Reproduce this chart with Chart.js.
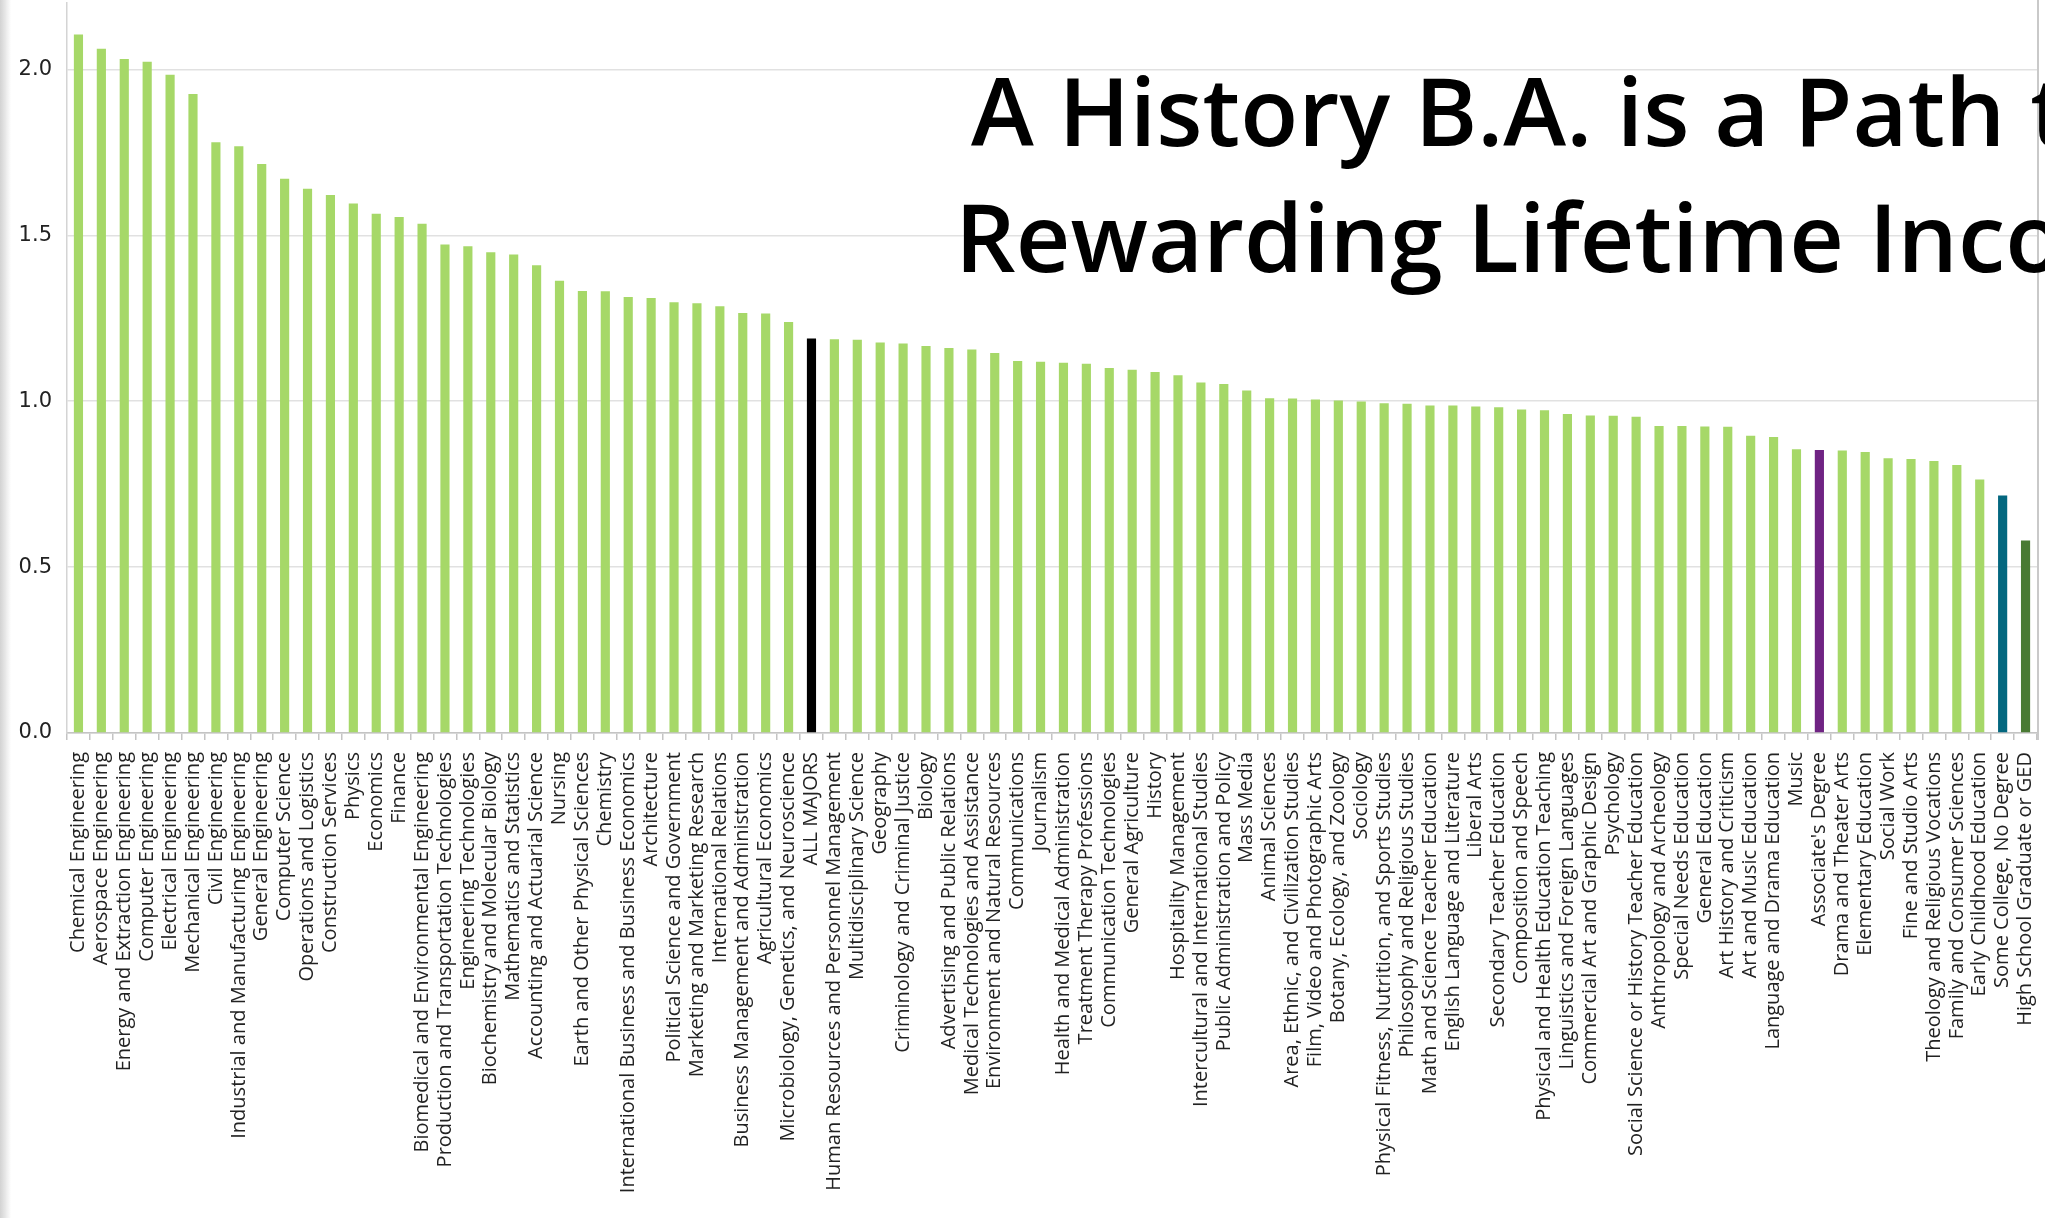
<!DOCTYPE html>
<html>
<head>
<meta charset="utf-8">
<title>A History B.A. is a Path to a Rewarding Lifetime Income</title>
<script src="https://cdn.jsdelivr.net/npm/chart.js@4"></script>
<style>
  html, body { margin: 0; padding: 0; background: #fff; overflow: hidden; }
  #wrap { position: relative; width: 2045px; height: 1218px; }
  #shade { position: absolute; left: 0; top: 0; width: 11px; height: 1218px;
           background: linear-gradient(to right, #d2d2d2, rgba(255,255,255,0)); }
</style>
</head>
<body>
<div id="wrap">
  <canvas id="chart" width="2045" height="1218"></canvas>
  <div id="shade"></div>
</div>
<script>
// Majors, sorted by lifetime income ratio
let majors = [
  "Chemical Engineering", "Aerospace Engineering", "Energy and Extraction Engineering",
  "Computer Engineering", "Electrical Engineering", "Mechanical Engineering",
  "Civil Engineering", "Industrial and Manufacturing Engineering", "General Engineering",
  "Computer Science", "Operations and Logistics", "Construction Services", "Physics",
  "Economics", "Finance", "Biomedical and Environmental Engineering",
  "Production and Transportation Technologies", "Engineering Technologies",
  "Biochemistry and Molecular Biology", "Mathematics and Statistics",
  "Accounting and Actuarial Science", "Nursing", "Earth and Other Physical Sciences",
  "Chemistry", "International Business and Business Economics", "Architecture",
  "Political Science and Government", "Marketing and Marketing Research",
  "International Relations", "Business Management and Administration",
  "Agricultural Economics", "Microbiology, Genetics, and Neuroscience", "ALL MAJORS",
  "Human Resources and Personnel Management", "Multidisciplinary Science", "Geography",
  "Criminology and Criminal Justice", "Biology", "Advertising and Public Relations",
  "Medical Technologies and Assistance", "Environment and Natural Resources",
  "Communications", "Journalism", "Health and Medical Administration",
  "Treatment Therapy Professions", "Communication Technologies", "General Agriculture",
  "History", "Hospitality Management", "Intercultural and International Studies",
  "Public Administration and Policy", "Mass Media", "Animal Sciences",
  "Area, Ethnic, and Civilization Studies", "Film, Video and Photographic Arts",
  "Botany, Ecology, and Zoology", "Sociology",
  "Physical Fitness, Nutrition, and Sports Studies", "Philosophy and Religious Studies",
  "Math and Science Teacher Education", "English Language and Literature", "Liberal Arts",
  "Secondary Teacher Education", "Composition and Speech",
  "Physical and Health Education Teaching", "Linguistics and Foreign Languages",
  "Commercial Art and Graphic Design", "Psychology",
  "Social Science or History Teacher Education", "Anthropology and Archeology",
  "Special Needs Education", "General Education", "Art History and Criticism",
  "Art and Music Education", "Language and Drama Education", "Music",
  "Associate's Degree", "Drama and Theater Arts", "Elementary Education", "Social Work",
  "Fine and Studio Arts", "Theology and Religious Vocations",
  "Family and Consumer Sciences", "Early Childhood Education",
  "Some College, No Degree", "High School Graduate or GED"
];

let incomeRatio = [
  2.105, 2.062, 2.031, 2.023, 1.984, 1.926, 1.780, 1.768, 1.715, 1.670,
  1.640, 1.621, 1.596, 1.565, 1.555, 1.535, 1.472, 1.467, 1.449, 1.442,
  1.410, 1.363, 1.332, 1.331, 1.314, 1.311, 1.298, 1.295, 1.286, 1.266,
  1.264, 1.239, 1.189, 1.187, 1.185, 1.177, 1.174, 1.166, 1.160, 1.156,
  1.145, 1.121, 1.119, 1.116, 1.113, 1.100, 1.095, 1.088, 1.078, 1.056,
  1.052, 1.032, 1.009, 1.008, 1.005, 1.002, 0.999, 0.994, 0.992, 0.987,
  0.987, 0.984, 0.982, 0.975, 0.973, 0.961, 0.957, 0.956, 0.953, 0.925,
  0.925, 0.924, 0.923, 0.896, 0.892, 0.855, 0.853, 0.851, 0.847, 0.828,
  0.826, 0.820, 0.808, 0.764, 0.716, 0.580
];

let yTicks = [0, 0.5, 1.0, 1.5, 2.0];
let yMax = 2.2;

let titleLines = ["A History B.A. is a Path to a", "Rewarding Lifetime Income"];

// colours
let barGreen = "#a6d868";
let highlight = {
  "ALL MAJORS": "#000000",
  "Associate's Degree": "#6f2383",
  "Some College, No Degree": "#03677f",
  "High School Graduate or GED": "#497a33"
};
let barColors = majors.map(m => highlight[m] || barGreen);

// big title laid over the plot, runs off the right edge
let titlePlugin = {
  id: "bigTitle",
  afterDraw(chart) {
    let ctx = chart.ctx;
    ctx.save();
    ctx.fillStyle = "#000";
    ctx.font = "600 95px 'Open Sans'";
    ctx.textAlign = "left";
    ctx.textBaseline = "alphabetic";
    ctx.fillText(titleLines[0], 971, 146);
    ctx.fillText(titleLines[1], 955, 272);
    ctx.restore();
  }
};

// thin frame line on the right of the plot
let frameRight = {
  id: "frameRight",
  beforeDatasetsDraw(chart) {
    let ctx = chart.ctx;
    let a = chart.chartArea;
    ctx.save();
    ctx.strokeStyle = "#c9c9c9";
    ctx.lineWidth = 2;
    ctx.beginPath();
    ctx.moveTo(a.right + 1, 0);
    ctx.lineTo(a.right + 1, a.bottom + 7);
    ctx.stroke();
    ctx.restore();
  }
};

function drawChart() {
  let ctx = document.getElementById("chart").getContext("2d");
  new Chart(ctx, {
    type: "bar",
    data: {
      labels: majors,
      datasets: [{
        data: incomeRatio,
        backgroundColor: barColors,
        borderWidth: 0,
        categoryPercentage: 1.0,
        barPercentage: 0.4
      }]
    },
    options: {
      responsive: false,
      animation: false,
      devicePixelRatio: 1,
      layout: { padding: { top: 3, right: 8, left: 0, bottom: 0 } },
      plugins: { legend: { display: false }, tooltip: { enabled: false } },
      scales: {
        x: {
          grid: { offset: true, drawOnChartArea: false, drawTicks: true, tickLength: 7, color: "#c4c4c4", lineWidth: 1.5 },
          border: { color: "#c4c4c4", width: 1.5 },
          ticks: {
            autoSkip: false,
            minRotation: 90,
            maxRotation: 90,
            padding: 12,
            color: "#222",
            font: { family: "'Open Sans'", size: 20 }
          },
          afterFit(scale) {
            scale.height = 485;
            scale.paddingLeft = 0;
            scale.paddingRight = 0;
          }
        },
        y: {
          min: 0,
          max: yMax,
          afterBuildTicks(axis) { axis.ticks = yTicks.map(v => ({ value: v })); },
          grid: { color: "#e1e1e1", lineWidth: 1.5, drawTicks: false },
          border: { color: "#d4d4d4", width: 1.5 },
          ticks: {
            padding: 15,
            color: "#222",
            font: { family: "'DejaVu Sans'", size: 21 },
            callback: v => v.toFixed(1)
          },
          afterFit(scale) {
            scale.width = 67;
            scale.paddingTop = 0;
            scale.paddingBottom = 0;
          }
        }
      }
    },
    plugins: [frameRight, titlePlugin]
  });
}

document.fonts.load("600 95px 'Open Sans'").then(drawChart, drawChart);
</script>
</body>
</html>
